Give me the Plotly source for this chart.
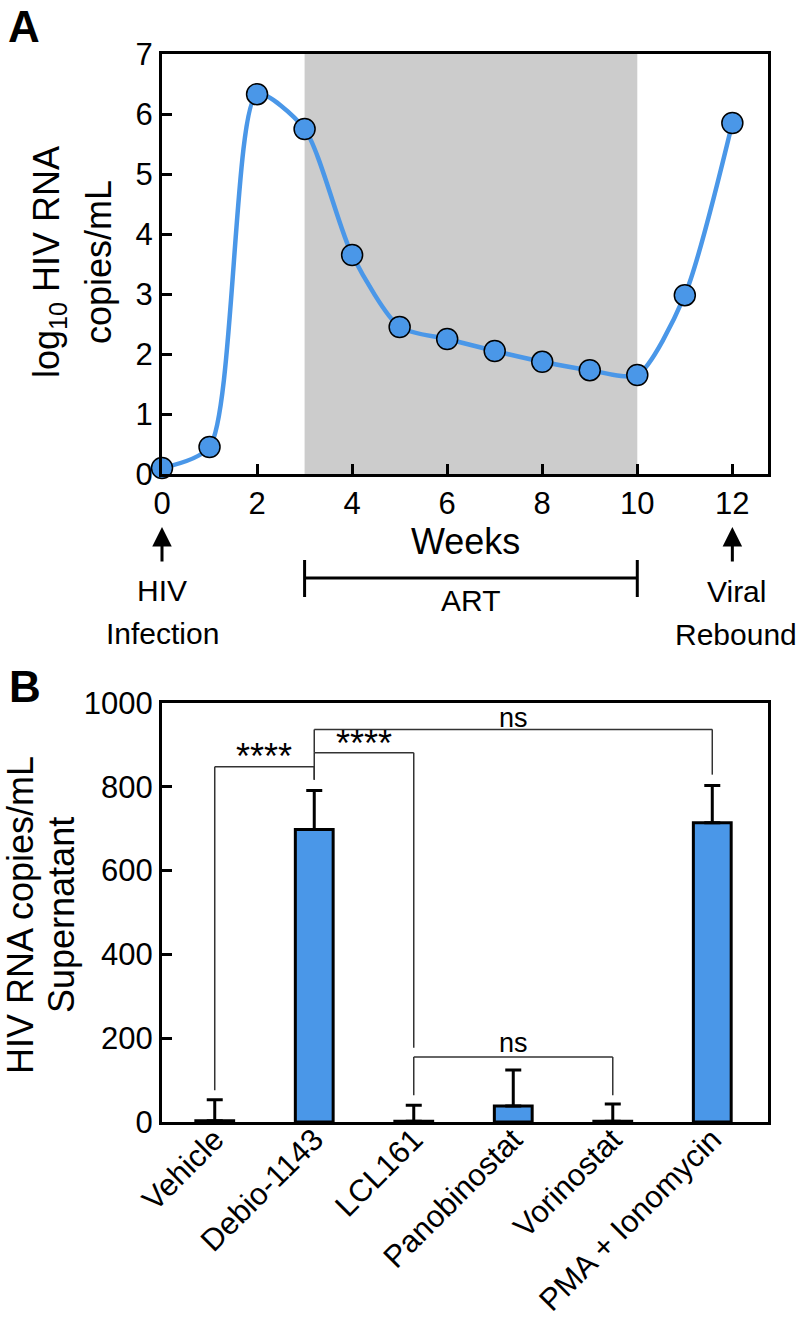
import plotly.graph_objects as go

# ---------------- Data ----------------
weeks = [0, 1, 2, 3, 4, 5, 6, 7, 8, 9, 10, 11, 12]
log_rna = [0.10, 0.45, 6.33, 5.75, 3.65, 2.45, 2.25, 2.05, 1.87, 1.73, 1.65, 2.98, 5.85]
art_start, art_end = 3, 10
infection_week, rebound_week = 0, 12

categories = ["Vehicle", "Debio-1143", "LCL161", "Panobinostat", "Vorinostat", "PMA + Ionomycin"]
rna_values = [3, 698, 2, 38, 2, 714]
rna_err = [50, 93, 38, 86, 41, 89]

# brackets: (left cat, right cat, bracket height, left foot, right foot, label, label y)
brackets = [
    ("Vehicle", "Debio-1143", 848, 76, 817, "****", 872),
    ("Debio-1143", "LCL161", 881, 817, 177, "****", 903),
    ("Debio-1143", "PMA + Ionomycin", 937, 881, 829, "ns", 965),
    ("LCL161", "Vorinostat", 155, 64, 64, "ns", 189),
]

W, H = 800, 1317
FONT = "Arial, 'Liberation Sans', sans-serif"
BLUE = "#4a97e8"


def py(px):
    return 1 - px / H


fig = go.Figure()

# ---------------- Panel A ----------------
fig.add_trace(go.Scatter(
    x=weeks, y=log_rna, mode="lines+markers",
    line=dict(color=BLUE, width=4.5, shape="spline", smoothing=0.7),
    marker=dict(size=21, color=BLUE, line=dict(color="black", width=1.5)),
    cliponaxis=False, xaxis="x", yaxis="y", showlegend=False,
))

# ---------------- Panel B ----------------
fig.add_trace(go.Bar(
    x=categories, y=rna_values, width=0.38,
    marker=dict(color=BLUE, line=dict(color="black", width=3)),
    error_y=dict(type="data", symmetric=False, array=rna_err,
                 arrayminus=[0] * len(rna_err), color="black", thickness=3, width=8),
    xaxis="x2", yaxis="y2", showlegend=False,
))

axis_common = dict(showline=True, linecolor="black", linewidth=3, mirror=True,
                   showgrid=False, zeroline=False, automargin=False,
                   tickfont=dict(family=FONT, size=31, color="black"))

fig.update_layout(
    width=W, height=H, margin=dict(l=0, r=0, t=0, b=0, autoexpand=False),
    paper_bgcolor="white", plot_bgcolor="white",
    xaxis=dict(domain=[162 / W, 768 / W], anchor="y", range=[0, 12.75],
               tickvals=[0, 2, 4, 6, 8, 10, 12], ticks="inside", ticklen=10,
               tickwidth=3, tickcolor="black", **axis_common),
    yaxis=dict(domain=[py(474), py(54)], anchor="x", range=[0, 7], dtick=1,
               ticks="inside", ticklen=10, tickwidth=3, tickcolor="black", **axis_common),
    xaxis2=dict(domain=[162 / W, 768 / W], anchor="y2", range=[-0.53, 5.56],
                ticks="", tickangle=-45, ticklabelstandoff=-16, **axis_common),
    yaxis2=dict(domain=[py(1122), py(703)], anchor="x2", range=[0, 1000],
                tickvals=[0, 200, 400, 600, 800, 1000], ticks="inside", ticklen=10,
                tickwidth=3, tickcolor="black", **axis_common),
)

shapes = []
annotations = []

# ART shaded window
shapes.append(dict(type="rect", xref="x", yref="y", x0=art_start, x1=art_end, y0=0, y1=7,
                   fillcolor="#cccccc", line=dict(width=0), layer="below"))

# ART bar under the axis
bar_y = py(578)
shapes.append(dict(type="line", xref="x", yref="paper", x0=art_start, x1=art_end,
                   y0=bar_y, y1=bar_y, line=dict(color="black", width=3)))
for xv in (art_start, art_end):
    shapes.append(dict(type="line", xref="x", yref="paper", x0=xv, x1=xv,
                       y0=py(560), y1=py(597), line=dict(color="black", width=3)))

# arrows
for xv in (infection_week, rebound_week):
    annotations.append(dict(x=xv, y=py(527), xref="x", yref="paper", text="",
                            showarrow=True, ax=0, ay=36, arrowhead=2, arrowsize=1.3,
                            arrowwidth=3, arrowcolor="black", standoff=0))


def txt(text, x, y, xref="paper", size=30, **kw):
    d = dict(text=text, x=x, y=y, xref=xref, yref="paper", showarrow=False,
             xanchor="center", yanchor="middle",
             font=dict(family=FONT, size=size, color="black"))
    d.update(kw)
    annotations.append(d)


txt("HIV", infection_week, py(590), xref="x")
txt("Infection", infection_week, py(633), xref="x")
txt("ART", (art_start + art_end) / 2, py(600), xref="x")
txt("Viral", rebound_week, py(591), xref="x", xshift=4)
txt("Rebound", rebound_week, py(634), xref="x", xshift=4)
txt("Weeks", 465 / W, py(541), size=36)

# y titles A
txt("log<sub>10</sub> HIV RNA", 49 / W, py(262), size=36, textangle=-90)
txt("copies/mL", 99 / W, py(262), size=36, textangle=-90)
# y titles B
txt("HIV RNA copies/mL", 20 / W, py(915), size=36, textangle=-90)
txt("Supernatant", 61 / W, py(915), size=36, textangle=-90)

# panel letters
txt("<b>A</b>", 24 / W, py(0), size=44, yanchor="top")
txt("<b>B</b>", 25 / W, py(660), size=44, yanchor="top")

# significance brackets
for left, right, hy, lf, rf, label, ly in brackets:
    xl, xr = categories.index(left), categories.index(right)
    lc = dict(color="#333333", width=1.5)
    shapes.append(dict(type="line", xref="x2", yref="y2", x0=xl, x1=xr, y0=hy, y1=hy, line=lc))
    shapes.append(dict(type="line", xref="x2", yref="y2", x0=xl, x1=xl, y0=hy, y1=lf, line=lc))
    shapes.append(dict(type="line", xref="x2", yref="y2", x0=xr, x1=xr, y0=hy, y1=rf, line=lc))
    annotations.append(dict(text=label, x=(xl + xr) / 2, y=ly, xref="x2", yref="y2",
                            showarrow=False, xanchor="center", yanchor="middle",
                            font=dict(family=FONT, size=36 if label == "****" else 27,
                                      color="black")))

fig.update_layout(shapes=shapes, annotations=annotations)
fig.write_html("out.html", config={"displayModeBar": False},
               post_script="document.body.style.margin='0px';document.body.style.overflow='hidden';")
